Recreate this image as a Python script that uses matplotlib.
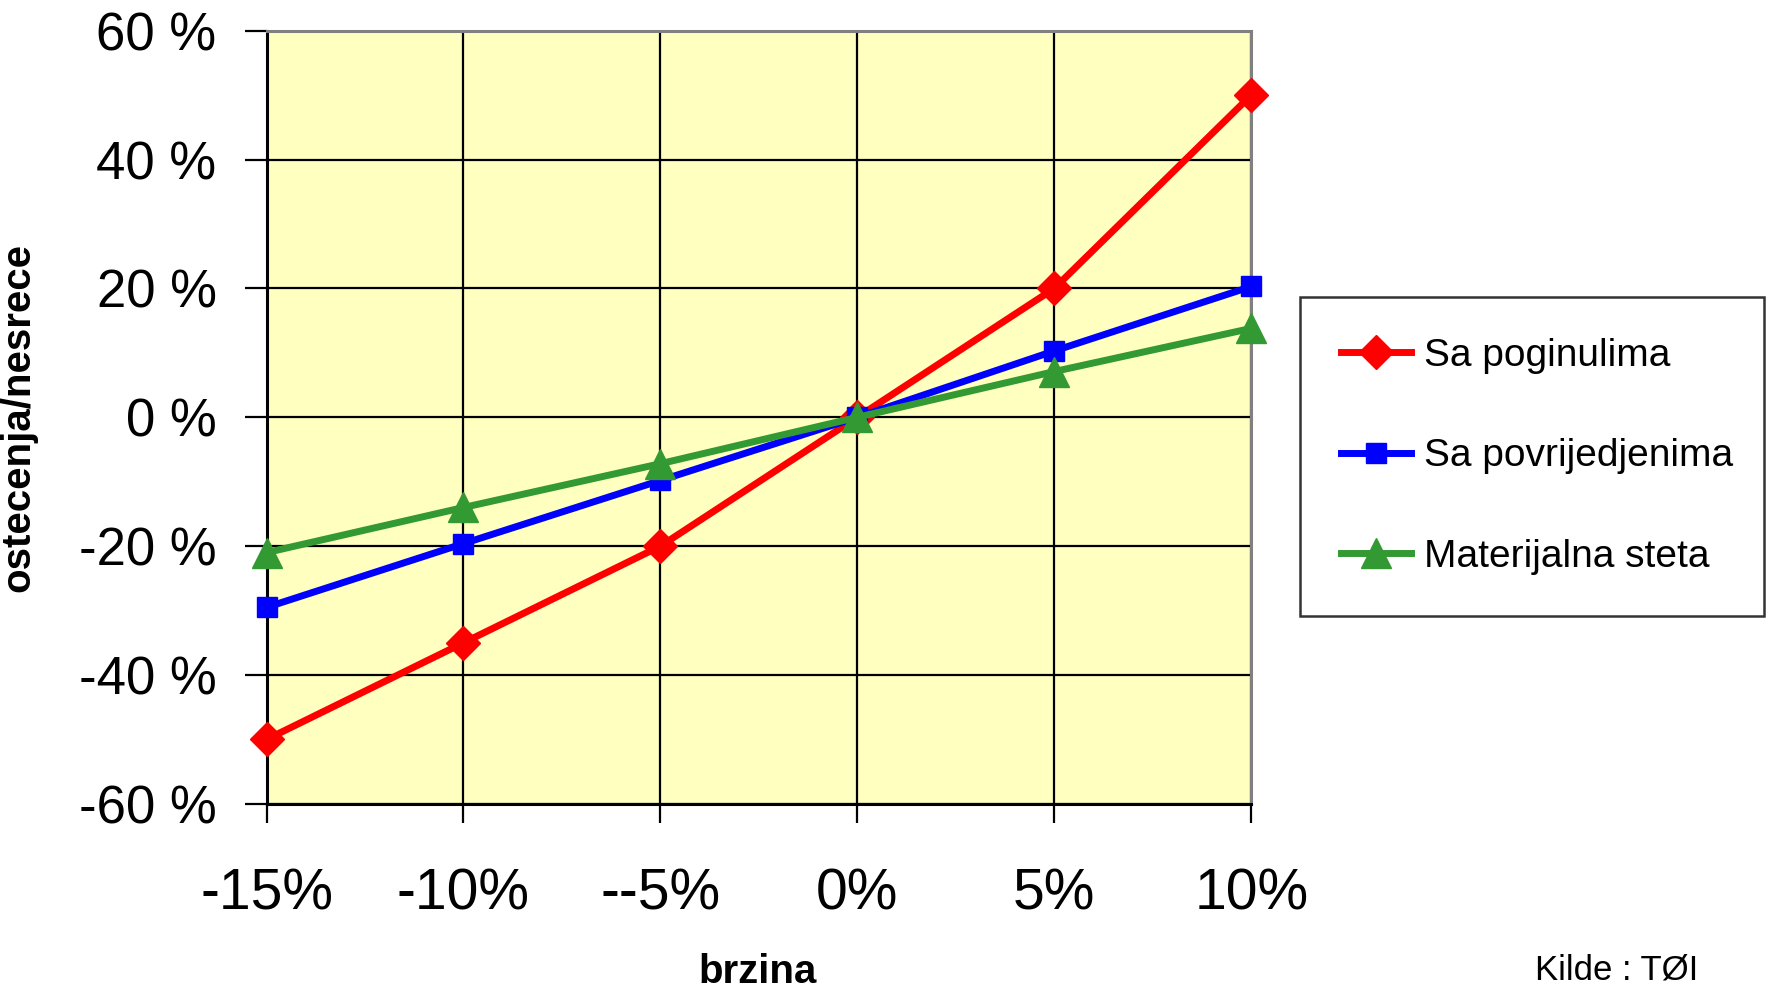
import matplotlib
matplotlib.use('Agg')
import matplotlib.pyplot as plt

# Podaci sa grafika
brzina = ['-15%', '-10%', '--5%', '0%', '5%', '10%']
sa_poginulima = [-50, -35, -20, 0, 20, 50]
sa_povrijedjenima = [-29.5, -19.6, -9.8, 0, 10.3, 20.3]
materijalna_steta = [-21, -14, -7.2, 0, 7.1, 13.8]
y_ticks = [-60, -40, -20, 0, 20, 40, 60]

plt.rcParams['font.family'] = ['Liberation Sans', 'DejaVu Sans']

fig = plt.figure(figsize=(17.71, 9.9), dpi=100)
ax = fig.add_axes([0.1505, 0.188, 0.556, 0.781])
ax.set_facecolor('#ffffc0')

x = list(range(len(brzina)))
ax.plot(x, sa_poginulima, color='#ff0000', lw=5, marker='D', ms=17,
        label='Sa poginulima', clip_on=False, zorder=3)
ax.plot(x, sa_povrijedjenima, color='#0000ff', lw=5, marker='s', ms=15,
        label='Sa povrijedjenima', clip_on=False, zorder=4)
ax.plot(x, materijalna_steta, color='#339933', lw=5, marker='^', ms=21,
        label='Materijalna steta', clip_on=False, zorder=5)

ax.set_xlim(0, len(brzina) - 1)
ax.set_ylim(-60, 60)
ax.set_xticks(x)
ax.set_xticklabels(brzina, fontsize=41)
ax.set_yticks(y_ticks)
ax.set_yticklabels([f'{v} %' for v in y_ticks], fontsize=38)
ax.grid(True, color='black', lw=1.6)
ax.tick_params(axis='y', length=16, width=1.6, pad=20)
ax.tick_params(axis='x', length=14, width=1.6, pad=32)

for s in ['left', 'bottom']:
    ax.spines[s].set_color('black')
    ax.spines[s].set_linewidth(2.2)
for s in ['top', 'right']:
    ax.spines[s].set_color('#808080')
    ax.spines[s].set_linewidth(2.2)

ax.set_ylabel('ostecenja/nesrece', fontsize=29, fontweight='bold', labelpad=30)
fig.text(0.428, 0.018, 'brzina', fontsize=29, fontweight='bold',
         ha='center', va='center')

leg = fig.legend(loc='upper left', bbox_to_anchor=(0.734, 0.39, 0.262, 0.31),
                 mode='expand', fontsize=28,
                 frameon=True, fancybox=False, edgecolor='black', borderpad=1.05,
                 labelspacing=1.66, handlelength=1.8, handletextpad=0.35,
                 borderaxespad=0)
leg.get_frame().set_linewidth(1.8)

fig.text(0.913, 0.020, 'Kilde : TØI', fontsize=25, ha='center', va='center')

fig.savefig('out.png', dpi=100, facecolor='white')
